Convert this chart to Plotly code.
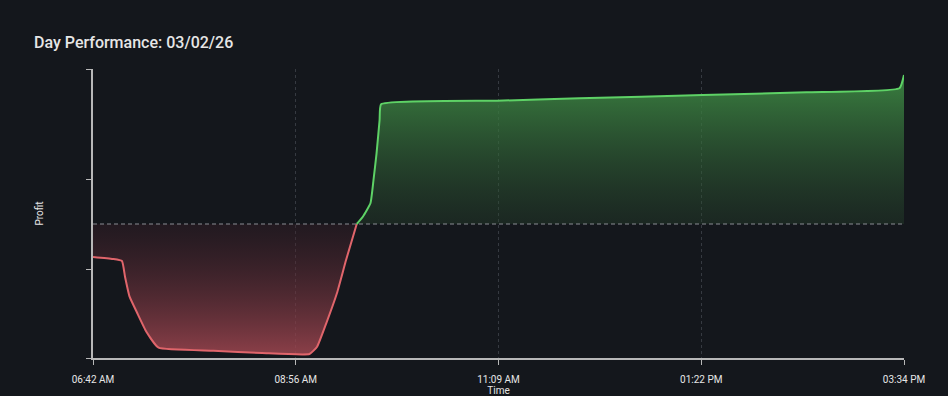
import plotly.graph_objects as go

DAY = "2026-03-02"
BASELINE = 0

red_times = ["06:42:00", "06:55:00", "07:01:00", "07:03:00", "07:06:00", "07:11:00",
             "07:17:00", "07:25:00", "08:01:00", "08:33:00", "09:04:00", "09:09:00",
             "09:15:00", "09:22:00", "09:28:00", "09:35:00"]
red_values = [-330, -350, -370, -527, -727, -890, -1077, -1237, -1267, -1290, -1300,
              -1227, -993, -693, -360, 0]

green_times = ["09:35:00", "09:39:00", "09:44:00", "09:46:00", "09:48:00", "09:50:00",
               "09:51:00", "11:07:00", "12:01:00", "13:22:00", "14:30:00", "15:31:00",
               "15:34:00"]
green_values = [0, 73, 207, 440, 707, 1040, 1197, 1233, 1257, 1290, 1317, 1357, 1490]

x_tick_times = ["06:42:00", "08:55:00", "11:08:00", "13:21:00", "15:34:00"]
x_tick_labels = ["06:42 AM", "08:56 AM", "11:09 AM", "01:22 PM", "03:34 PM"]

y_min, y_max = -1340, 1550
y_tick_vals = [-1340, -450, 450, 1550]

BG = "#14171c"

def ts(t):
    return f"{DAY} {t}"

fig = go.Figure()

fig.add_trace(go.Scatter(
    x=[ts(t) for t in red_times], y=red_values, mode="lines",
    line=dict(color="#e0656b", width=2, shape="spline", smoothing=0.4),
    fill="tozeroy",
    fillgradient=dict(type="vertical",
                      colorscale=[[0, "rgba(160,70,80,0.85)"], [1, "rgba(60,30,40,0.35)"]]),
    hoverinfo="skip", showlegend=False,
))
fig.add_trace(go.Scatter(
    x=[ts(t) for t in green_times], y=green_values, mode="lines",
    line=dict(color="#5ed266", width=2, shape="spline", smoothing=0.4),
    fill="tozeroy",
    fillgradient=dict(type="vertical",
                      colorscale=[[0, "rgba(40,70,45,0.35)"], [1, "rgba(62,140,68,0.9)"]]),
    hoverinfo="skip", showlegend=False,
))

fig.add_shape(type="line", xref="paper", x0=0, x1=1, yref="y", y0=BASELINE, y1=BASELINE,
              line=dict(color="#8a8d93", width=1, dash="4px,3px"), layer="above")

fig.update_layout(
    width=948, height=396,
    paper_bgcolor=BG, plot_bgcolor=BG,
    margin=dict(l=93, r=44, t=69, b=38),
    font=dict(family="Roboto, sans-serif", color="#e6e6e6"),
    title=dict(text="Day Performance: 03/02/26", xref="container", yref="container",
               x=34 / 948, y=1 - 42 / 396, xanchor="left", yanchor="middle",
               font=dict(size=16, color="#e6e6e6", weight=500)),
    xaxis=dict(
        type="date", range=[ts(x_tick_times[0]), ts(x_tick_times[-1])],
        tickvals=[ts(t) for t in x_tick_times], ticktext=x_tick_labels,
        tickfont=dict(size=10, color="#e6e6e6"),
        ticks="outside", ticklen=5, tickcolor="#b8b8b8", tickwidth=1,
        ticklabelstandoff=6, automargin=False,
        showline=True, linecolor="#b8b8b8", linewidth=2,
        showgrid=True, gridcolor="#363a41", griddash="3px,3px", gridwidth=1,
        zeroline=False,
        title=dict(text="Time", font=dict(size=10, color="#e6e6e6"), standoff=0),
    ),
    yaxis=dict(
        range=[y_min, y_max], tickvals=y_tick_vals, ticktext=["" for _ in y_tick_vals],
        ticks="outside", ticklen=5, tickcolor="#b8b8b8", tickwidth=1,
        showline=True, linecolor="#b8b8b8", linewidth=2, automargin=False,
        showgrid=False, zeroline=False,
        title=dict(text="Profit", font=dict(size=10, color="#e6e6e6"), standoff=38),
    ),
)

fig.write_html("out.html", config={"displayModeBar": False},
               post_script="document.body.style.margin='0';")
